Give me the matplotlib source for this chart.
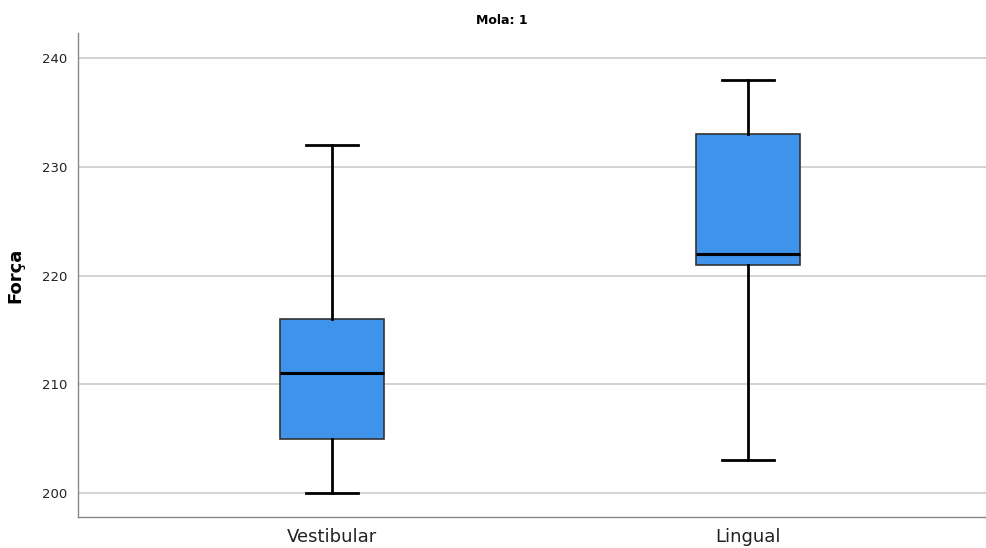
import matplotlib
matplotlib.use("Agg")
import matplotlib.pyplot as plt

# five-number summaries per group
groups = ["Vestibular", "Lingual"]
mins = [200, 203]
q1s = [205, 221]
medians = [211, 222]
q3s = [216, 233]
maxs = [232, 238]

stats = []
for name, lo, a, m, b, hi in zip(groups, mins, q1s, medians, q3s, maxs):
    stats.append({"label": name, "whislo": lo, "q1": a, "med": m,
                  "q3": b, "whishi": hi, "fliers": []})

fig = plt.figure(figsize=(9.87, 5.48), dpi=100)
ax = fig.add_axes([78 / 987, 31 / 548, 909 / 987, 484 / 548])

ax.bxp(stats, positions=[0, 1], widths=0.25, patch_artist=True,
       showfliers=False,
       boxprops=dict(facecolor="#3f93ea", edgecolor="#333333", linewidth=1.2),
       medianprops=dict(color="black", linewidth=2.2),
       whiskerprops=dict(color="black", linewidth=2),
       capprops=dict(color="black", linewidth=2),
       capwidths=0.125, zorder=3)

ax.set_xlim(-0.611, 1.575)
ax.set_ylim(197.8, 242.3)
ax.set_yticks([200, 210, 220, 230, 240])
ax.yaxis.grid(True, color="#cccccc", linewidth=1.2, zorder=0)
ax.set_axisbelow(True)

for s in ["top", "right"]:
    ax.spines[s].set_visible(False)
for s in ["left", "bottom"]:
    ax.spines[s].set_color("#888888")
    ax.spines[s].set_linewidth(1)

ax.tick_params(axis="y", length=0, pad=8, labelsize=9.5, labelcolor="#222222")
ax.tick_params(axis="x", length=0, pad=8, labelsize=13, labelcolor="#222222")

ax.set_ylabel("Força", fontsize=13, fontweight="bold", labelpad=12)
fig.text(502 / 987, 1 - 20 / 548, "Mola: 1", ha="center", va="center",
         fontsize=9, fontweight="bold")

fig.savefig("out.png", dpi=100)
